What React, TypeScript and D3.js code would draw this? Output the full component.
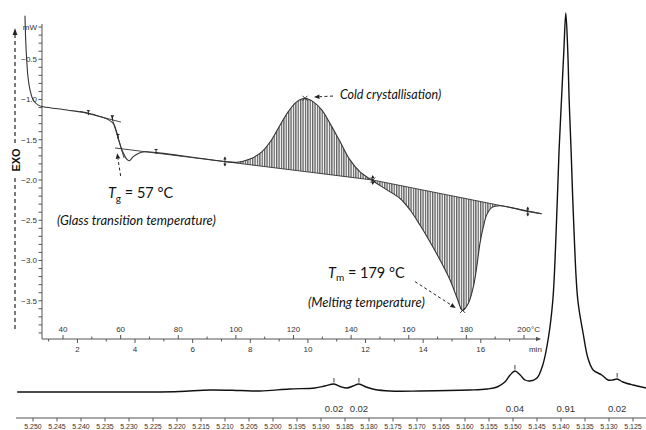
import React, { useEffect } from "react"
import * as d3 from "d3"

// ---- bottom spectrum (chemical shift, ppm) ----
const specPpm = [
    5.2533, 5.2444, 5.236, 5.2256, 5.2194, 5.2131, 5.2069, 5.2027, 5.1965, 5.1913, 5.1892, 5.1873,
    5.186, 5.1846, 5.1833, 5.1821, 5.1806, 5.1788, 5.1756, 5.1694, 5.159, 5.1554, 5.1533, 5.1517,
    5.1506, 5.1496, 5.1485, 5.1475, 5.1465, 5.145, 5.1438, 5.1427, 5.1417, 5.141, 5.1404, 5.1399,
    5.1394, 5.139, 5.1386, 5.1383, 5.1379, 5.1373, 5.1365, 5.1354, 5.1344, 5.1333, 5.1315, 5.1302,
    5.1292, 5.1283, 5.1271, 5.125, 5.1223,
]
const specInt = [
    0, 0, 0, 0, 0.5, 2, 1.5, 1, 3, 4, 6, 8,
    5.5, 4, 6, 8, 5, 2.5, 1, 1, 2, 3, 5, 10,
    17, 21, 17, 12, 11, 14, 27, 52, 92, 162, 242, 292,
    342, 379, 342, 292, 242, 162, 92, 59, 34, 22, 17, 12,
    12, 13, 10, 7, 4,
]
const peakPpm = [5.1873, 5.1821, 5.1496, 5.139, 5.1283]
const peakTop = [8, 8, 21, 379, 13]
const peakLabels = ["0.02", "0.02", "0.04", "0.91", "0.02"]
const peakTick = [true, true, true, false, true]
const ppmTicks = [
    5.25, 5.245, 5.24, 5.235, 5.23, 5.225, 5.22, 5.215, 5.21, 5.205, 5.2, 5.195, 5.19,
    5.185, 5.18, 5.175, 5.17, 5.165, 5.16, 5.155, 5.15, 5.145, 5.14, 5.135, 5.13, 5.125,
]

// ---- DSC inset (temperature °C, heat flow mW) ----
const dscTemp = [
    26.8, 27.05, 27.4, 27.85, 28.55, 29.7, 31.4, 33.2, 41.3, 48.8, 52.8, 55.7, 57.5, 58.6,
    59.5, 60.5, 61.3, 62.1, 63.0, 64.4, 66.1, 68.5, 72.5, 87.5, 96.2, 100.4, 104.9, 109.0,
    112.4, 115.3, 118.2, 121.1, 124.0, 126.9, 129.8, 132.7, 136.1, 139.6, 143.1, 147.5,
    152.3, 157.0, 160.4, 163.9, 167.4, 170.8, 174.3, 176.6, 178.7, 180.7, 182.4, 183.6,
    184.7, 185.9, 187.1, 188.9, 191.7, 195.1, 201.3, 206.1,
]
const dscPower = [
    0.04, -0.26, -0.51, -0.72, -0.88, -1.01, -1.07, -1.09, -1.13, -1.17, -1.21, -1.25, -1.3, -1.4,
    -1.52, -1.63, -1.69, -1.74, -1.76, -1.71, -1.67, -1.65, -1.66, -1.73, -1.77, -1.78, -1.74, -1.65,
    -1.5, -1.32, -1.15, -1.03, -0.985, -1.03, -1.13, -1.3, -1.52, -1.75, -1.9, -2.01,
    -2.12, -2.23, -2.37, -2.56, -2.77, -2.99, -3.24, -3.45, -3.62, -3.53, -3.33, -3.08,
    -2.79, -2.58, -2.43, -2.34, -2.32, -2.34, -2.39, -2.42,
]
// construction lines [[T0, mW0], [T1, mW1]]
const tgUpperTangent = [[45.9, -1.149], [60.1, -1.28]]
const tgInflectionTangent = [[56.7, -1.193], [61.2, -1.727]]
const crystBaseline = [[58.05, -1.602], [147.5, -2.0]]
const meltBaseline = [[147.5, -2.0], [206.1, -2.419]]
const crystRange = [96.2, 147.5]
const meltRange = [147.5, 201.3]
// markers [T, mW]
const smallMarks = [[48.8, -1.17], [57.2, -1.235], [59.1, -1.466], [72.3, -1.652]]
const rangeMarks = [[96.2, -1.77], [147.5, -2.0], [201.3, -2.39]]
const crossMarks = [[124.0, -0.985], [178.7, -3.62], [147.5, -2.0]]

const tempTicks = [40, 50, 60, 70, 80, 90, 100, 110, 120, 130, 140, 150, 160, 170, 180, 190, 200]
const tempLabels = [40, 60, 80, 100, 120, 140, 160, 180, 200]
const minuteTicks = [1, 2, 3, 4, 5, 6, 7, 8, 9, 10, 11, 12, 13, 14, 15, 16, 17]
const minuteLabels = [2, 4, 6, 8, 10, 12, 14, 16]
const powerLabels = [-0.5, -1.0, -1.5, -2.0, -2.5, -3.0, -3.5]
const powerMinor = d3.range(-1, -40, -1).map((v) => v / 10)

const tickFont = "'Liberation Sans', Arial, sans-serif"
const noteFont = "Lato, 'Open Sans', sans-serif"

export default function App() {
    useEffect(() => {
        document.body.style.margin = "0"
    }, [])

    // spectrum scales
    const xP = d3.scaleLinear().domain([5.25, 5.125]).range([33, 633])
    const yI = d3.scaleLinear().domain([0, 379]).range([392, 13])
    const specLine = d3
        .line<number>()
        .x((d, i) => xP(specPpm[i]))
        .y((d) => yI(d))
        .curve(d3.curveCatmullRom.alpha(0.5))

    // DSC scales
    const xT = d3.scaleLinear().domain([40, 200]).range([63, 524])
    const yW = d3.scaleLinear().domain([-0.5, -3.5]).range([59.25, 300.75])
    const xMin = (m: number) => xT(25 + 10 * m)
    const axisY = 339
    const axisX = 42

    const dscPts = dscTemp.map((t, i) => [t, dscPower[i]] as [number, number])
    const dscLine = d3
        .line<[number, number]>()
        .x((d) => xT(d[0]))
        .y((d) => yW(d[1]))
        .curve(d3.curveCatmullRom.alpha(0.5))

    const lineAt = (seg: number[][], t: number) =>
        seg[0][1] + ((t - seg[0][0]) / (seg[1][0] - seg[0][0])) * (seg[1][1] - seg[0][1])

    const hatchArea = (range: number[], seg: number[][]) => {
        const pts = dscPts.filter((p) => p[0] >= range[0] - 1e-6 && p[0] <= range[1] + 1e-6)
        return d3
            .area<[number, number]>()
            .x((d) => xT(d[0]))
            .y0((d) => yW(lineAt(seg, d[0])))
            .y1((d) => yW(d[1]))
            .curve(d3.curveCatmullRom.alpha(0.5))(pts)
    }

    const seg = (s: number[][]) => ({
        x1: xT(s[0][0]),
        y1: yW(s[0][1]),
        x2: xT(s[1][0]),
        y2: yW(s[1][1]),
    })

    const ink = "#222"
    const dscInk = "#333"

    const arrow = (x1: number, y1: number, x2: number, y2: number, key: string) => {
        const a = Math.atan2(y2 - y1, x2 - x1)
        const L = 5.5
        const w = 2.3
        const bx = x2 - L * Math.cos(a)
        const by = y2 - L * Math.sin(a)
        const p = `M${x2},${y2}L${bx + w * Math.sin(a)},${by - w * Math.cos(a)}L${bx - w * Math.sin(a)},${by + w * Math.cos(a)}Z`
        return (
            <g key={key}>
                <line x1={x1} y1={y1} x2={bx} y2={by} stroke={ink} strokeWidth={1} strokeDasharray="3,2.5" />
                <path d={p} fill={ink} />
            </g>
        )
    }

    return (
        <svg width={646} height={430} style={{ display: "block", background: "#fff" }}>
            <defs>
                <pattern id="hatch" width={2.4} height={6} patternUnits="userSpaceOnUse">
                    <line x1={0.7} y1={0} x2={0.7} y2={6} stroke="#222" strokeWidth={0.95} />
                </pattern>
            </defs>

            {/* spectrum */}
            <path d={specLine(specInt) || ""} fill="none" stroke="#111" strokeWidth={1.4} />
            {peakPpm.map((p, i) =>
                peakTick[i] ? (
                    <line key={"pt" + i} x1={xP(p)} x2={xP(p)} y1={yI(peakTop[i]) - 1.5} y2={yI(peakTop[i]) - 6} stroke="#444" strokeWidth={1} />
                ) : null
            )}
            {peakPpm.map((p, i) => (
                <text key={"pl" + i} x={xP(p)} y={412} textAnchor="middle" fontFamily={tickFont} fontSize={9.5} fill="#333">
                    {peakLabels[i]}
                </text>
            ))}
            <line x1={16} x2={646} y1={418} y2={418} stroke="#555" strokeWidth={1} />
            {ppmTicks.map((t) => (
                <g key={"pp" + t}>
                    <line x1={xP(t)} x2={xP(t)} y1={418} y2={421.5} stroke="#555" strokeWidth={1} />
                    <text x={xP(t)} y={428.5} textAnchor="middle" fontFamily={tickFont} fontSize={7} fill="#333">
                        {d3.format(".3f")(t)}
                    </text>
                </g>
            ))}

            {/* EXO arrow */}
            <line x1={15} x2={15} y1={34} y2={145} stroke={ink} strokeWidth={1.2} strokeDasharray="4,3" />
            <line x1={15} x2={15} y1={178} y2={331} stroke={ink} strokeWidth={1.2} strokeDasharray="4,3" />
            <path d="M15,28 L12.6,35 L17.4,35 Z" fill={ink} />
            <text transform="translate(19.5,160) rotate(-90)" textAnchor="middle" fontFamily={tickFont} fontWeight="bold" fontSize={11} fill="#111">
                EXO
            </text>

            {/* DSC axes */}
            <line x1={axisX} x2={axisX} y1={24} y2={axisY} stroke="#555" strokeWidth={1} />
            <line x1={axisX} x2={540} y1={axisY} y2={axisY} stroke="#555" strokeWidth={1} />
            <path d={`M541,${axisY} L536,${axisY - 2.2} L536,${axisY + 2.2} Z`} fill="#555" />
            {powerMinor.map((v) => (
                <line key={"pm" + v} x1={axisX - 3.5} x2={axisX} y1={yW(v)} y2={yW(v)} stroke="#555" strokeWidth={1} />
            ))}
            {powerLabels.map((v) => (
                <text key={"pw" + v} x={37} y={yW(v) + 2.8} textAnchor="end" fontFamily={tickFont} fontSize={8} fill="#333">
                    {d3.format(".1f")(v)}
                </text>
            ))}
            <text x={37} y={yW(-0.1) + 3} textAnchor="end" fontFamily={tickFont} fontSize={8} fill="#333">
                mW
            </text>
            {tempTicks.map((t) => (
                <line key={"tt" + t} x1={xT(t)} x2={xT(t)} y1={axisY} y2={axisY - (t % 20 === 0 ? 4 : 2.5)} stroke="#555" strokeWidth={1} />
            ))}
            {tempLabels.map((t) => (
                <text key={"tl" + t} x={xT(t)} y={axisY - 7} textAnchor="middle" fontFamily={tickFont} fontSize={8} fill="#333">
                    {t}
                </text>
            ))}
            <text x={xT(200) + 7} y={axisY - 7} textAnchor="start" fontFamily={tickFont} fontSize={8} fill="#333">
                °C
            </text>
            {minuteTicks.map((m) => (
                <line key={"mt" + m} x1={xMin(m)} x2={xMin(m)} y1={axisY} y2={axisY + (m % 2 === 0 ? 4 : 2.5)} stroke="#555" strokeWidth={1} />
            ))}
            {minuteLabels.map((m) => (
                <text key={"ml" + m} x={xMin(m)} y={axisY + 13} textAnchor="middle" fontFamily={tickFont} fontSize={8} fill="#333">
                    {m}
                </text>
            ))}
            <text x={xMin(18) - 3} y={axisY + 13} textAnchor="middle" fontFamily={tickFont} fontSize={8} fill="#333">
                min
            </text>

            {/* hatched peak areas */}
            <path d={hatchArea(crystRange, crystBaseline) || ""} fill="url(#hatch)" stroke="none" />
            <path d={hatchArea(meltRange, meltBaseline) || ""} fill="url(#hatch)" stroke="none" />

            {/* construction lines */}
            {[tgUpperTangent, tgInflectionTangent, crystBaseline, meltBaseline].map((s, i) => (
                <line key={"cl" + i} {...seg(s)} stroke={dscInk} strokeWidth={0.9} />
            ))}

            {/* DSC curve */}
            <path d={dscLine(dscPts) || ""} fill="none" stroke={dscInk} strokeWidth={1.1} />

            {/* markers */}
            {smallMarks.map((m, i) => (
                <g key={"sm" + i} stroke={ink} strokeWidth={1}>
                    <line x1={xT(m[0])} x2={xT(m[0])} y1={yW(m[1]) - 3} y2={yW(m[1]) + 2} />
                    <line x1={xT(m[0]) - 1.5} x2={xT(m[0]) + 1.5} y1={yW(m[1]) - 2.5} y2={yW(m[1]) - 2.5} />
                </g>
            ))}
            {rangeMarks.map((m, i) => {
                const x = xT(m[0])
                const y = yW(m[1])
                return (
                    <g key={"rm" + i} fill={ink} stroke={ink} strokeWidth={0.9}>
                        <line x1={x} x2={x} y1={y - 4} y2={y + 4} />
                        <path d={`M${x},${y - 5}L${x - 1.6},${y - 2}L${x + 1.6},${y - 2}Z`} stroke="none" />
                        <path d={`M${x},${y + 5}L${x - 1.6},${y + 2}L${x + 1.6},${y + 2}Z`} stroke="none" />
                    </g>
                )
            })}
            {crossMarks.map((m, i) => {
                const x = xT(m[0])
                const y = yW(m[1])
                return (
                    <g key={"cm" + i} stroke={ink} strokeWidth={0.9}>
                        <line x1={x - 2.5} x2={x + 2.5} y1={y - 2.5} y2={y + 2.5} />
                        <line x1={x - 2.5} x2={x + 2.5} y1={y + 2.5} y2={y - 2.5} />
                    </g>
                )
            })}

            {/* annotations */}
            {arrow(xT(60.0), yW(-1.95), xT(58.8), yW(-1.668), "a1")}
            {arrow(xT(133.7), yW(-0.957), xT(127.1), yW(-0.969), "a2")}
            {arrow(xT(162.2), yW(-3.263), xT(176.3), yW(-3.59), "a3")}

            <text x={xT(55.6)} y={yW(-2.224)} fontFamily={noteFont} fontSize={14.5} fill="#111">
                <tspan fontStyle="italic">T</tspan>
                <tspan fontSize={10} dy={3.5}>g</tspan>
                <tspan dy={-3.5}> = 57 °C</tspan>
            </text>
            <text x={xT(37.9)} y={yW(-2.559)} fontFamily={noteFont} fontSize={13} fontStyle="italic" fill="#111">
                (Glass transition temperature)
            </text>
            <text x={xT(132.0)} y={yW(-3.217)} fontFamily={noteFont} fontSize={14.5} fill="#111">
                <tspan fontStyle="italic">T</tspan>
                <tspan fontSize={10} dy={3.5}>m</tspan>
                <tspan dy={-3.5}> = 179 °C</tspan>
            </text>
            <text x={xT(125.0)} y={yW(-3.578)} fontFamily={noteFont} fontSize={13} fontStyle="italic" fill="#111">
                (Melting temperature)
            </text>
            <text x={xT(136.1)} y={yW(-0.994)} fontFamily={noteFont} fontSize={12.5} fontStyle="italic" fill="#111">
                Cold crystallisation)
            </text>
        </svg>
    )
}
